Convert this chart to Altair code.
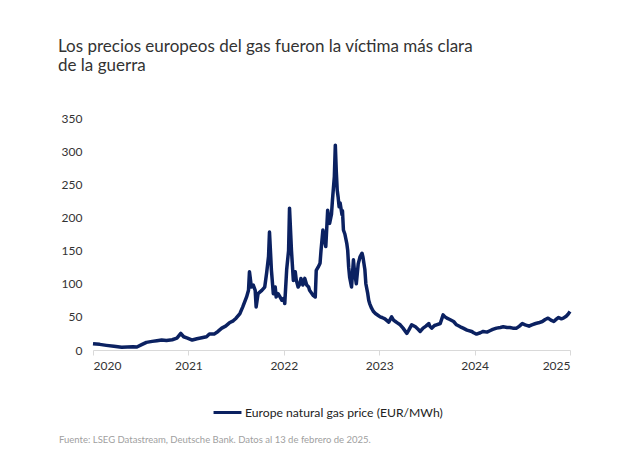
import altair as alt
import pandas as pd

# ---- data ----
year = [
    2020.12, 2020.19, 2020.26, 2020.34, 2020.42, 2020.48, 2020.54, 2020.58, 2020.63, 2020.68,
    2020.74, 2020.79, 2020.84, 2020.89, 2020.95, 2021.00, 2021.04, 2021.07, 2021.11, 2021.16,
    2021.21, 2021.26, 2021.31, 2021.34, 2021.39, 2021.43, 2021.47, 2021.51, 2021.55, 2021.59,
    2021.62, 2021.66, 2021.69, 2021.73, 2021.75, 2021.76, 2021.78, 2021.80, 2021.82, 2021.83,
    2021.85, 2021.89, 2021.92, 2021.94, 2021.96, 2021.97, 2021.99, 2022.01, 2022.03, 2022.04,
    2022.06, 2022.08, 2022.10, 2022.12, 2022.13, 2022.15, 2022.17, 2022.18, 2022.20, 2022.22,
    2022.24, 2022.25, 2022.27, 2022.29, 2022.30, 2022.32, 2022.34, 2022.36, 2022.38, 2022.39,
    2022.41, 2022.43, 2022.45, 2022.46, 2022.48, 2022.50, 2022.51, 2022.53, 2022.54, 2022.56,
    2022.58, 2022.59, 2022.60, 2022.62, 2022.63, 2022.65, 2022.66, 2022.67, 2022.68, 2022.69,
    2022.70, 2022.71, 2022.73, 2022.735, 2022.745, 2022.76, 2022.78, 2022.79, 2022.80, 2022.81,
    2022.83, 2022.85, 2022.86, 2022.88, 2022.89, 2022.90, 2022.92, 2022.94, 2022.95, 2022.97,
    2022.98, 2023.00, 2023.01, 2023.02, 2023.04, 2023.06, 2023.08, 2023.11, 2023.13, 2023.15,
    2023.18, 2023.22, 2023.25, 2023.27, 2023.29, 2023.31, 2023.34, 2023.37, 2023.41, 2023.43,
    2023.46, 2023.50, 2023.53, 2023.55, 2023.58, 2023.61, 2023.64, 2023.65, 2023.67, 2023.70,
    2023.72, 2023.76, 2023.79, 2023.81, 2023.83, 2023.86, 2023.90, 2023.93, 2023.97, 2024.00,
    2024.04, 2024.09, 2024.11, 2024.14, 2024.18, 2024.21, 2024.25, 2024.28, 2024.31, 2024.35,
    2024.39, 2024.42, 2024.46, 2024.49, 2024.52, 2024.56, 2024.59, 2024.62, 2024.65, 2024.69,
    2024.72, 2024.76, 2024.79, 2024.83, 2024.86, 2024.89, 2024.92, 2024.95, 2024.98, 2025.00,
    2025.03, 2025.05, 2025.08, 2025.10, 2025.12,
]
price = [
    9.5, 8.5, 7, 5.5, 4, 4.5, 5, 4.5, 8, 11.5,
    13, 14, 15, 14.5, 15.5, 18, 25, 20, 18, 15,
    17, 18.5, 20, 24, 24, 28, 33, 36, 41, 44,
    48, 55, 65, 80, 90, 118, 95, 98, 90, 65,
    85, 90, 95, 116, 141, 178, 121, 85, 95, 80,
    85, 80, 75, 78, 70, 121, 150, 214, 151, 105,
    118, 106, 95, 100, 108, 98, 108, 98, 95, 90,
    86, 82, 80, 120, 125, 131, 150, 181, 170, 156,
    211, 200, 191, 205, 226, 262, 309, 270, 241, 230,
    216, 222, 204, 210, 181, 175, 161, 150, 125, 110,
    95, 136, 120, 100, 115, 130, 141, 146, 140, 121,
    100, 85, 75, 70, 63, 58, 55, 52, 50, 49,
    47, 42, 50, 45, 43, 41, 38, 33, 25, 30,
    38, 35, 31, 28, 33, 36, 40, 36, 33, 37,
    38, 40, 53, 50, 48, 46, 43, 38, 35, 33,
    30, 28, 26, 24, 26, 28, 27, 29, 31, 33,
    34, 35, 34, 34, 33, 33, 36, 40, 38, 36,
    38, 40, 41, 43, 46, 48, 45, 43, 47, 49,
    47, 48, 51, 54, 58,
]
series_name = "Europe natural gas price (EUR/MWh)"
x_tick_values = [2020.12, 2021.12, 2022.12, 2023.12, 2024.12, 2025.12]
y_tick_values = [0, 50, 100, 150, 200, 250, 300, 350]
title_lines = ["Los precios europeos del gas fueron la víctima más clara", "de la guerra"]
footnote = "Fuente: LSEG Datastream, Deutsche Bank. Datos al 13 de febrero de 2025."

FONT = "Lato"
NAVY = "#0b2161"

df = pd.DataFrame({"t": year, "price": price, "serie": series_name})

line = alt.Chart(df).mark_line(strokeWidth=3.5, strokeJoin="round").encode(
    x=alt.X(
        "t:Q",
        scale=alt.Scale(domain=[x_tick_values[0], x_tick_values[-1]], nice=False, zero=False),
        axis=alt.Axis(
            title=None, values=x_tick_values, labelExpr="format(floor(datum.value), 'd')",
            grid=False, domainColor="#d9d9d9", tickColor="#d9d9d9", tickSize=5,
            labelPadding=5, labelFontSize=12, labelColor="#333333", labelFont=FONT,
        ),
    ),
    y=alt.Y(
        "price:Q",
        scale=alt.Scale(domain=[0, 350], nice=False),
        axis=alt.Axis(
            title=None, values=y_tick_values, grid=False, domain=False, ticks=False,
            labelPadding=11, labelFontSize=12, labelColor="#333333", labelFont=FONT,
        ),
    ),
    color=alt.Color(
        "serie:N",
        scale=alt.Scale(range=[NAVY]),
        legend=alt.Legend(
            title=None, orient="none", legendX=119, legendY=279,
            symbolType="stroke", symbolSize=780, symbolStrokeWidth=3,
            labelFontSize=12.2, labelFont=FONT, labelColor="#222222", labelOffset=2,
            labelLimit=400,
        ),
    ),
)

foot = alt.Chart(pd.DataFrame({"txt": [footnote]})).mark_text(
    align="left", baseline="middle", fontSize=9.5, font=FONT, color="#a0a0a0"
).encode(x=alt.value(-34), y=alt.value(322), text="txt:N")

chart = alt.layer(line, foot).properties(
    width=477,
    height=232,
    autosize="none",
    padding={"left": 85, "top": 110, "right": 30, "bottom": 100},
    title=alt.TitleParams(
        text=title_lines, anchor="start", frame="group", dx=-35, offset=37,
        fontSize=17, font=FONT, fontWeight="normal", color="#333333", lineHeight=19,
    ),
).configure_view(stroke=None)

chart.save("out.html", embed_options={"renderer": "svg", "actions": False})
